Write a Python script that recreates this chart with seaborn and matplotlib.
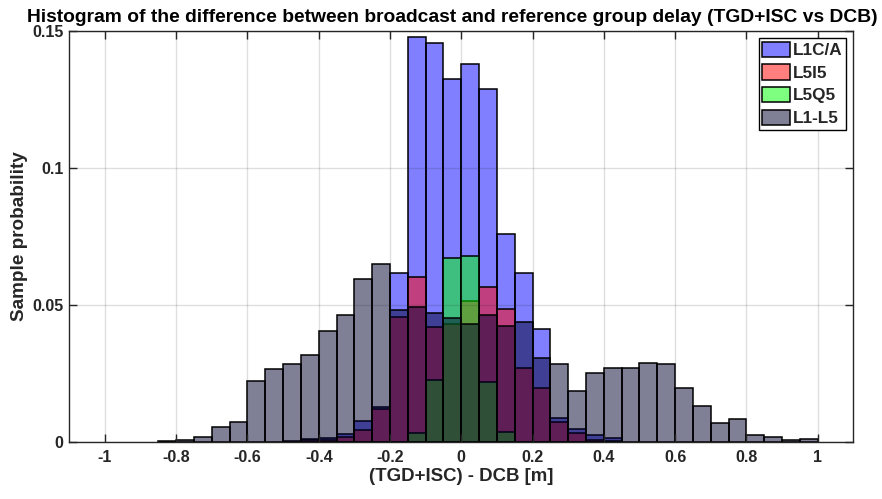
import numpy as np
import pandas as pd
import matplotlib
matplotlib.use("Agg")
import matplotlib.pyplot as plt
import seaborn as sns

# ---- data (sample probability per 0.05 m bin, bins from -0.85 to 1.00) ----
bin_edges = np.round(np.arange(-0.85, 1.0001, 0.05), 2)

l1ca = [0, 0, 0, 0, 0, 0, 0, 0.0003, 0.0010, 0.0013, 0.0027, 0.0077, 0.0125,
        0.0617, 0.1477, 0.1457, 0.1326, 0.1378, 0.1287, 0.0757, 0.0615, 0.0410,
        0.0088, 0.0045, 0.0024, 0.0012, 0, 0, 0, 0, 0, 0, 0, 0, 0, 0, 0]
l5i5 = [0, 0, 0, 0, 0, 0, 0, 0, 0.0008, 0.0007, 0.0016, 0.0043, 0.0118,
        0.0457, 0.0600, 0.0420, 0.0430, 0.0514, 0.0566, 0.0484, 0.0270, 0.0197,
        0.0071, 0.0033, 0.0008, 0.0004, 0, 0, 0, 0, 0, 0, 0, 0, 0, 0, 0]
l5q5 = [0, 0, 0, 0, 0, 0, 0, 0, 0, 0, 0, 0, 0,
        0, 0.0031, 0.0225, 0.0670, 0.0678, 0.0217, 0.0037, 0, 0,
        0, 0, 0, 0, 0, 0, 0, 0, 0, 0, 0, 0, 0, 0, 0]
l1l5 = [0.0004, 0.0006, 0.0017, 0.0055, 0.0072, 0.0223, 0.0264, 0.0282, 0.0316,
        0.0403, 0.0464, 0.0593, 0.0649, 0.0481, 0.0491, 0.0471, 0.0453, 0.0430,
        0.0463, 0.0423, 0.0436, 0.0305, 0.0283, 0.0184, 0.0250, 0.0270, 0.0270,
        0.0289, 0.0285, 0.0195, 0.0131, 0.0068, 0.0082, 0.0023, 0.0017, 0.0006,
        0.0009]

series_names = ["L1C/A", "L5I5", "L5Q5", "L1-L5"]
series_values = [l1ca, l5i5, l5q5, l1l5]
series_colors = [(0, 0, 1), (1, 0, 0), (0, 1, 0), (0, 0, 0.18)]

x_ticks = [-1, -0.8, -0.6, -0.4, -0.2, 0, 0.2, 0.4, 0.6, 0.8, 1]
x_tick_labels = ["-1", "-0.8", "-0.6", "-0.4", "-0.2", "0", "0.2", "0.4", "0.6", "0.8", "1"]
y_ticks = [0, 0.05, 0.1, 0.15]
y_tick_labels = ["0", "0.05", "0.1", "0.15"]

# ---- style ----
sns.set_theme(style="white")
plt.rcParams["font.family"] = ["Liberation Sans", "DejaVu Sans"]
plt.rcParams["font.weight"] = "bold"

fig = plt.figure(figsize=(8.82, 4.99), dpi=100)
ax = fig.add_axes([69.3 / 882, 1 - 441.7 / 499, (853.3 - 69.3) / 882, (441.7 - 31) / 499])

centers = (bin_edges[:-1] + bin_edges[1:]) / 2
for name, vals, col in zip(series_names, series_values, series_colors):
    vals = np.asarray(vals, dtype=float)
    nz = np.nonzero(vals)[0]
    lo, hi = nz[0], nz[-1] + 1
    df = pd.DataFrame({"center": centers[lo:hi], "prob": vals[lo:hi]})
    sns.histplot(data=df, x="center", weights="prob", binwidth=0.05,
                 binrange=(float(bin_edges[lo]), float(bin_edges[hi])),
                 stat="count", color=col, alpha=0.5, edgecolor="black",
                 linewidth=1.1, label=name, ax=ax)

ax.set_xlim(-1.1, 1.1)
ax.set_ylim(0, 0.15)
ax.set_xticks(x_ticks)
ax.set_xticklabels(x_tick_labels)
ax.set_yticks(y_ticks)
ax.set_yticklabels(y_tick_labels)

ax.set_axisbelow(False)
ax.grid(True, color=(0.15, 0.15, 0.15), alpha=0.15, linewidth=1.0)

spine_c = (0.15, 0.15, 0.15)
for s in ax.spines.values():
    s.set_color(spine_c)
    s.set_linewidth(1.0)
    s.set_visible(True)
ax.tick_params(axis="both", which="both", direction="in", length=5.5, width=1.0,
               color=spine_c, top=True, right=True, bottom=True, left=True,
               labelsize=11.5, labelcolor=spine_c)
ax.tick_params(axis="x", pad=6)
ax.tick_params(axis="y", pad=4)
for lab in ax.get_xticklabels() + ax.get_yticklabels():
    lab.set_fontweight("bold")

ax.set_xlabel("(TGD+ISC) - DCB [m]", fontsize=13.4, fontweight="bold", color=spine_c, labelpad=2)
ax.set_ylabel("Sample probability", fontsize=13.6, fontweight="bold", color=spine_c, labelpad=3)

fig.text(452 / 882, 1 - 22.5 / 499,
         "Histogram of the difference between broadcast and reference group delay (TGD+ISC vs DCB)",
         ha="center", va="baseline", fontsize=13.9, fontweight="bold", color="black")

leg = ax.legend(loc="upper right", fontsize=12.3, frameon=True, fancybox=False,
                edgecolor="black", framealpha=1, handlelength=1.6, handleheight=1.0,
                handletextpad=0.2, labelspacing=0.36, borderpad=0.22, borderaxespad=0.4)
leg.get_frame().set_linewidth(1.0)
for t in leg.get_texts():
    t.set_fontweight("bold")

fig.savefig("out.png", dpi=100)
